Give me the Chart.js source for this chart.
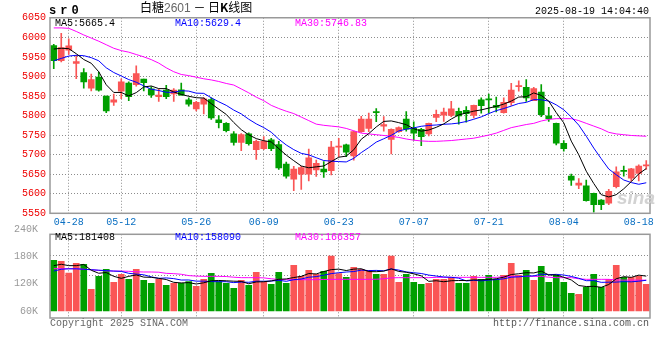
<!DOCTYPE html>
<html>
<head>
<meta charset="utf-8">
<script src="https://cdn.jsdelivr.net/npm/chart.js@4.4.1/dist/chart.umd.min.js"></script>
<style>
  body { margin:0; background:#fff; width:660px; height:360px; position:relative; overflow:hidden; }
  canvas { position:absolute; left:0; }
  #kc { top:0; }
  #vc { top:222px; }
  .t { position:absolute; font-family:"Liberation Mono", monospace; font-size:10px; line-height:10px; white-space:pre; }
</style>
</head>
<body>
<canvas id="kc" width="660" height="232"></canvas>
<canvas id="vc" width="660" height="110"></canvas>

<div class="t" style="left:49px;top:5px;font-weight:bold;font-size:12px;line-height:12px;letter-spacing:4px">sr0</div>
<div class="t" style="left:140px;top:0px;font-family:'Noto Sans CJK SC';font-size:12px;line-height:14px">白糖<span style="color:#666;font-family:'Liberation Sans'">2601</span> － 日<b>K</b>线图</div>
<div class="t" style="right:11px;top:7px">2025-08-19 14:04:40</div>

<div class="t" style="left:55px;top:19px;color:#000">MA5:5665.4</div>
<div class="t" style="left:175px;top:19px;color:#00f">MA10:5629.4</div>
<div class="t" style="left:295px;top:19px;color:#f0f">MA30:5746.83</div>

<div class="t" style="left:55px;top:233px;color:#000">MA5:181408</div>
<div class="t" style="left:175px;top:233px;color:#00f">MA10:158090</div>
<div class="t" style="left:295px;top:233px;color:#f0f">MA30:166357</div>

<div class="t" style="left:617px;top:188px;font-family:'Liberation Sans';font-style:italic;font-weight:bold;font-size:19px;line-height:19px;color:#d2d2d2">sina</div>

<div class="t" style="left:50px;top:319px;color:#666">Copyright 2025 SINA.COM</div>
<div class="t" style="right:11px;top:319px;color:#555">http://finance.sina.com.cn</div>

<script>
// trading days shown
const dates = ['04-24','04-25','04-28','04-29','04-30','05-06','05-07','05-08','05-09','05-12',
  '05-13','05-14','05-15','05-16','05-19','05-20','05-21','05-22','05-23','05-26',
  '05-27','05-28','05-29','05-30','06-03','06-04','06-05','06-06','06-09','06-10',
  '06-11','06-12','06-13','06-16','06-17','06-18','06-19','06-20','06-23','06-24',
  '06-25','06-26','06-27','06-30','07-01','07-02','07-03','07-04','07-07','07-08',
  '07-09','07-10','07-11','07-14','07-15','07-16','07-17','07-18','07-21','07-22',
  '07-23','07-24','07-25','07-28','07-29','07-30','07-31','08-01','08-04','08-05',
  '08-06','08-07','08-08','08-11','08-12','08-13','08-14','08-15','08-18','08-19'];
const tickDates = ['04-28','05-12','05-26','06-09','06-23','07-07','07-21','08-04','08-18'];

const opens = [5979,5940,5967,5933,5910,5870,5898,5850,5834,5862,
  5883,5879,5893,5868,5848,5865,5855,5866,5840,5817,
  5829,5841,5789,5780,5753,5731,5753,5713,5715,5738,
  5726,5676,5637,5650,5650,5661,5663,5659,5719,5725,
  5697,5759,5767,5810,5773,5739,5759,5791,5767,5765,
  5753,5795,5801,5800,5811,5813,5800,5840,5841,5826,
  5807,5833,5874,5872,5838,5860,5799,5780,5729,5645,
  5622,5620,5601,5584,5576,5618,5660,5640,5652,5671];
const closes = [5940,5974,5978,5938,5886,5892,5865,5812,5840,5886,
  5848,5907,5884,5853,5852,5848,5865,5852,5829,5834,
  5843,5794,5782,5761,5731,5751,5728,5734,5734,5715,
  5666,5645,5663,5667,5692,5678,5656,5719,5722,5706,
  5759,5791,5791,5807,5777,5765,5769,5765,5755,5746,
  5780,5803,5809,5817,5799,5805,5826,5825,5840,5821,
  5834,5865,5876,5845,5869,5802,5792,5729,5715,5635,
  5627,5582,5572,5572,5606,5656,5657,5664,5671,5674];
const highs = [5982,6010,5996,5954,5920,5906,5911,5850,5855,5894,
  5886,5927,5893,5874,5867,5877,5869,5883,5845,5836,
  5846,5845,5800,5782,5759,5754,5756,5737,5746,5742,
  5734,5681,5670,5670,5714,5686,5682,5734,5742,5727,
  5760,5798,5806,5818,5797,5766,5771,5810,5784,5767,
  5781,5814,5819,5836,5819,5823,5827,5845,5855,5847,
  5845,5882,5889,5892,5872,5879,5821,5781,5736,5650,
  5639,5635,5602,5585,5611,5669,5671,5665,5674,5685];
const lows = [5920,5937,5956,5894,5870,5863,5862,5807,5826,5843,
  5838,5875,5863,5846,5836,5843,5836,5852,5824,5812,
  5804,5790,5768,5758,5724,5710,5724,5688,5713,5710,
  5662,5640,5608,5611,5633,5644,5642,5648,5695,5695,
  5686,5757,5759,5784,5760,5702,5757,5760,5737,5723,
  5748,5784,5785,5797,5778,5783,5794,5806,5806,5809,
  5806,5826,5862,5836,5838,5797,5785,5725,5709,5621,
  5613,5581,5553,5559,5572,5615,5645,5632,5633,5662];

const ma5 = [5970,5972,5971,5958,5943.2,5933.6,5911.8,5878.6,5859,5859,
  5850.2,5858.6,5873,5875.6,5868.8,5868.8,5860.4,5854,5849.2,5845.6,
  5844.6,5830.4,5816.4,5802.8,5782.2,5763.8,5750.6,5741,5735.6,5732.4,
  5715.4,5698.8,5684.6,5671,5666.4,5668.8,5671,5682.2,5693.4,5696.2,
  5712.4,5739.4,5753.8,5770.8,5785,5786.2,5781.8,5776.6,5766.2,5760,
  5763,5769.8,5778.6,5791,5801.6,5806.6,5811.2,5814.4,5819,5823.4,
  5829.2,5837,5847.2,5848.2,5857.8,5851.4,5836.8,5807.4,5781.4,5734.6,
  5699.6,5657.6,5626.2,5597.6,5591.8,5597.6,5612.6,5631,5650.8,5664.4];
const ma10 = [5940,5946,5952,5954,5953,5948,5940,5922,5910,5901.1,
  5891.9,5885.2,5875.8,5867.3,5863.9,5859.5,5859.5,5863.5,5862.4,5857.2,
  5856.7,5845.4,5835.2,5826,5813.9,5804.2,5790.5,5778.7,5769.2,5757.3,
  5739.6,5724.7,5712.8,5703.3,5699.4,5692.1,5684.9,5683.4,5682.2,5681.3,
  5690.6,5705.2,5718,5732.1,5740.6,5749.3,5760.6,5765.2,5768.5,5772.5,
  5774.6,5775.8,5777.6,5778.6,5780.8,5784.8,5790.5,5796.5,5805,5812.5,
  5817.9,5824.1,5830.8,5833.6,5840.6,5840.3,5836.9,5827.3,5814.8,5796.2,
  5775.5,5747.2,5716.8,5689.5,5663.2,5648.6,5635.1,5628.6,5624.2,5628.1];
const ma30 = [6024,6024,6023,6015,6006,5998,5990,5981,5972,5966,
  5962,5956,5950,5943,5934,5922,5912,5905,5902,5898,
  5894,5891,5887,5882,5878,5868,5858,5847,5838,5826,
  5818,5811,5805,5796,5787,5778,5775,5773,5771,5767,
  5761,5755,5753,5751,5749,5747,5744,5740,5737,5735,
  5734,5734,5735,5736,5738,5740,5742,5746,5750,5755,
  5762,5769,5773,5777,5780,5786,5790,5792,5792,5792,
  5787,5780,5773,5766,5757,5753,5751,5749,5748,5747];

// volume, in K as read against the panel's axis
const vol = [171.7,169.5,143.8,165.1,162.9,107.8,136.4,151.9,123.2,140.9,
  129.8,151.9,127.6,121.0,129.8,116.6,121.0,121.0,124.7,114.4,
  129.8,143.0,124.7,121.0,110.0,127.6,116.6,145.3,123.2,118.8,
  145.3,121.0,160.7,136.4,149.7,140.9,147.5,181.3,142.3,134.2,
  156.3,151.9,149.7,140.9,140.9,181.3,123.2,140.9,123.2,118.8,
  121.0,129.8,129.8,134.2,121.0,121.0,136.4,129.8,138.6,129.8,
  138.6,165.1,138.6,149.7,127.6,158.5,123.2,138.6,123.2,99.0,
  96.8,112.2,140.9,112.2,129.8,160.7,134.2,134.2,136.4,118.8];
const vma5 = [160,163,160,160,162.6,149.8,143.2,144.8,136.4,132.0,
  136.4,139.5,134.7,134.2,132.0,129.4,123.2,121.9,122.6,119.5,
  122.2,126.6,127.3,126.6,125.7,125.3,120.0,124.1,124.5,126.3,
  129.8,130.7,133.8,136.4,142.6,141.7,147.0,151.2,152.3,149.2,
  152.3,153.2,146.9,146.6,147.9,152.9,147.2,145.4,141.9,137.5,
  125.4,126.7,124.5,126.7,127.2,127.2,128.5,128.5,129.4,131.1,
  134.6,140.4,142.1,144.4,143.9,147.9,139.5,139.5,134.2,128.5,
  116.2,114.0,114.4,112.2,118.4,131.2,135.6,134.2,139.1,136.9];
const vma10 = [148,152,153,153,152,151,150,149,148,147.3,
  143.1,141.4,139.8,135.3,132.0,132.9,131.4,128.3,128.4,125.8,
  125.8,124.9,124.6,124.6,122.6,123.8,123.3,125.7,125.6,126.0,
  127.6,125.4,129.0,130.5,134.5,135.8,138.9,142.5,144.4,145.9,
  147.0,150.1,149.1,149.5,148.6,152.6,150.2,146.2,144.3,142.7,
  139.2,137.0,135.0,134.3,132.4,126.3,127.6,126.5,128.1,129.2,
  130.9,134.5,135.3,136.9,137.5,141.3,140.0,140.8,139.3,136.2,
  132.1,126.8,127.0,123.2,123.5,123.7,124.8,124.3,125.7,127.7];
const vma30 = [153.3,153.3,153.3,153.3,152,151,149.5,148.5,148,148,
  147.5,146.5,146,146,145.5,143,142.3,141,138,137,
  136.4,136.4,136.4,136,134.5,133.5,133.5,133.5,133,131,
  129.5,129,129,129,129,129,129.5,129.8,129.8,129.8,
  129.8,129.8,129.8,130,131,133,133.5,133.5,133.5,133.5,
  133.5,134.2,134.2,134.2,134.2,134.2,134.2,134.2,134.2,134.2,
  135.5,136.4,136.4,136.4,136.4,136.4,134.5,133.5,133.5,133.5,
  131,129.8,129.8,129.8,129.8,128.5,128,128,128,128];
const volTicks = [60, 120, 180, 240];

const mono = { family: 'Liberation Mono', size: 10 };
const UP = '#fa5555', DOWN = '#009f00', GRID = '#8c8c8c';
const barColor = closes.map((c, i) => c >= opens[i] ? UP : DOWN);

// vertical grid only at labelled dates (none drawn for the last one)
const gridX = ctx => {
  const d = dates[ctx.index];
  return tickDates.includes(d) && d !== '08-18' ? GRID : 'transparent';
};

const frame = {
  id: 'frame',
  afterDraw(chart) {
    const a = chart.chartArea, c = chart.ctx;
    c.save();
    c.strokeStyle = '#999';
    c.lineWidth = 1.5;
    c.strokeRect(a.left, a.top, a.right - a.left, a.bottom - a.top);
    c.restore();
  }
};

const line = (data, color, order) => ({
  type: 'line', data: data, borderColor: color, borderWidth: 1,
  pointRadius: 0, tension: 0, order: order
});

new Chart(document.getElementById('kc'), {
  type: 'bar',
  data: {
    labels: dates,
    datasets: [
      line(ma5, '#000', 0),
      line(ma10, '#00f', 1),
      line(ma30, '#f0f', 2),
      { data: opens.map((o, i) => [o, closes[i]]), backgroundColor: barColor,
        barThickness: 6, minBarLength: 1, grouped: false, order: 3 },
      { data: lows.map((l, i) => [l, highs[i]]), backgroundColor: barColor,
        barThickness: 1, grouped: false, order: 4 }
    ]
  },
  options: {
    responsive: false, animation: false, devicePixelRatio: 1,
    layout: { padding: { top: 17.75, right: 10, left: 0, bottom: 0 } },
    plugins: { legend: { display: false }, tooltip: { enabled: false } },
    scales: {
      x: {
        offset: true,
        grid: { offset: false, color: gridX, drawTicks: false },
        border: { display: false, dash: [1, 2] },
        ticks: { autoSkip: false, maxRotation: 0, minRotation: 0, color: '#0a6fc2', font: mono, padding: 3,
          callback: (v, i) => tickDates.includes(dates[i]) ? dates[i] : '' },
        afterFit: s => { s.height = 18.7; }
      },
      y: {
        min: 5550, max: 6050,
        ticks: { stepSize: 50, color: '#e00', font: mono, padding: 4, callback: v => String(v) },
        grid: { color: c => c.tick.value > 5550 && c.tick.value < 6050 ? GRID : 'transparent', drawTicks: false },
        border: { display: false, dash: [1, 2] },
        afterFit: s => { s.width = 50; }
      }
    }
  },
  plugins: [frame]
});

new Chart(document.getElementById('vc'), {
  type: 'bar',
  data: {
    labels: dates,
    datasets: [
      line(vma5, '#000', 0),
      line(vma10, '#00f', 1),
      line(vma30, '#f0f', 2),
      { data: vol, base: 60, backgroundColor: barColor, barThickness: 6, order: 3 }
    ]
  },
  options: {
    responsive: false, animation: false, devicePixelRatio: 1,
    layout: { padding: { top: 12.3, right: 10, left: 0, bottom: 0 } },
    plugins: { legend: { display: false }, tooltip: { enabled: false } },
    scales: {
      x: {
        offset: true,
        grid: { offset: false, color: gridX, drawTicks: false },
        border: { display: false, dash: [1, 2] },
        ticks: { display: false },
        afterFit: s => { s.height = 14; }
      },
      y: {
        min: 44.56, max: 229.1,
        afterBuildTicks: s => { s.ticks = volTicks.map(v => ({ value: v })); },
        ticks: { autoSkip: false, color: '#999', font: mono, padding: 4, callback: v => v + 'K' },
        grid: { display: false },
        border: { display: false },
        afterFit: s => { s.width = 50; }
      },
      yg: {
        type: 'linear', position: 'right',
        min: -1.15, max: 3.035,
        ticks: { display: false, stepSize: 1 },
        grid: { color: c => [0, 1, 2].includes(c.tick.value) ? GRID : 'transparent', drawTicks: false },
        border: { display: false, dash: [1, 2] },
        afterFit: s => { s.width = 0; }
      }
    }
  },
  plugins: [frame]
});
</script>
</body>
</html>
